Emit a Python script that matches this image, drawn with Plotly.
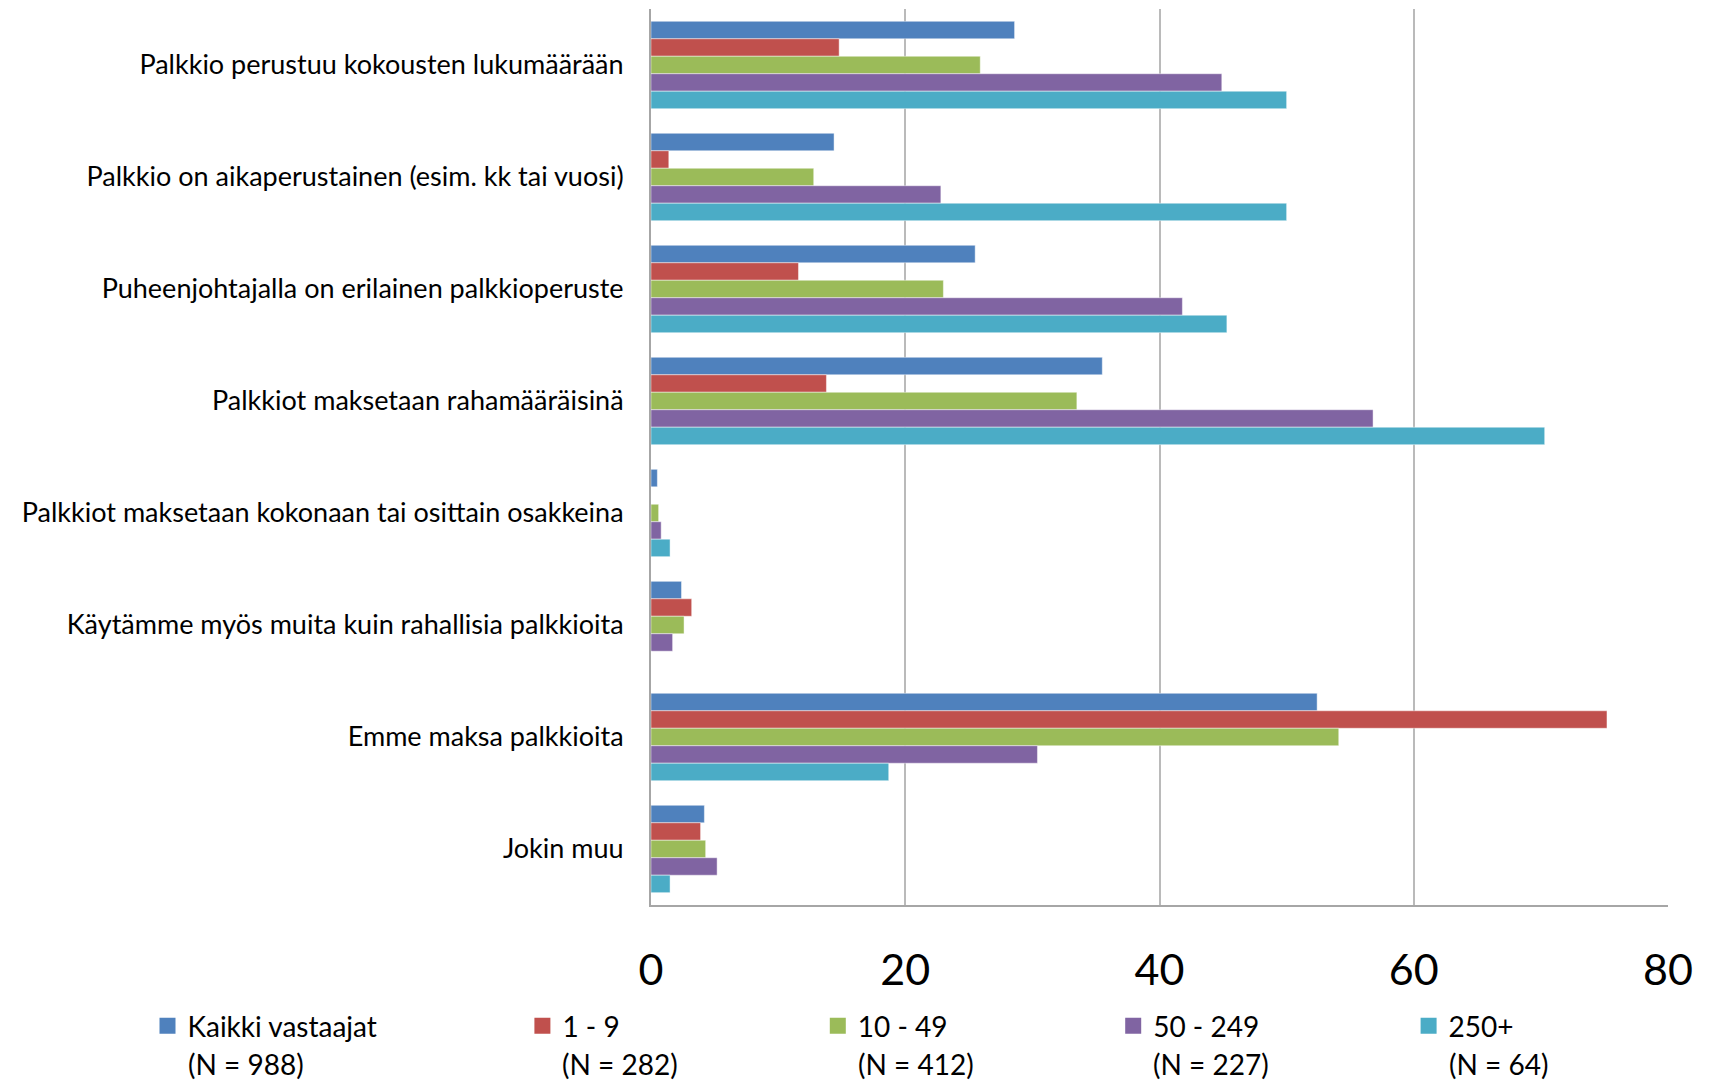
import plotly.graph_objects as go

categories = [
    "Palkkio perustuu kokousten lukumäärään",
    "Palkkio on aikaperustainen (esim. kk tai vuosi)",
    "Puheenjohtajalla on erilainen palkkioperuste",
    "Palkkiot maksetaan rahamääräisinä",
    "Palkkiot maksetaan kokonaan tai osittain osakkeina",
    "Käytämme myös muita kuin rahallisia palkkioita",
    "Emme maksa palkkioita",
    "Jokin muu",
]

series_names = ["Kaikki vastaajat", "1 - 9", "10 - 49", "50 - 249", "250+"]
series_n = ["(N = 988)", "(N = 282)", "(N = 412)", "(N = 227)", "(N = 64)"]

kaikki = [28.6, 14.4, 25.5, 35.5, 0.5, 2.4, 52.4, 4.2]
s_1_9 = [14.8, 1.4, 11.6, 13.8, 0.0, 3.2, 75.2, 3.9]
s_10_49 = [25.9, 12.8, 23.0, 33.5, 0.6, 2.6, 54.1, 4.3]
s_50_249 = [44.9, 22.8, 41.8, 56.8, 0.8, 1.7, 30.4, 5.2]
s_250 = [50.0, 50.0, 45.3, 70.3, 1.5, 0.0, 18.7, 1.5]

series_values = [kaikki, s_1_9, s_10_49, s_50_249, s_250]
colors = ["#4F81BD", "#C0504D", "#9BBB59", "#8064A2", "#4BACC6"]
x_ticks = [0, 20, 40, 60, 80]

# figure geometry (page has an 8px body margin)
W, H = 1701, 1074
ML, MR, MT, MB = 643, 41, 1, 177
PW, PH = W - ML - MR, H - MT - MB
legend_text_px = [179.5, 554.4, 849.8, 1145.2, 1440.6]
legend_py = 993
n_label_py = 1056

FONT = "Lato, sans-serif"

fig = go.Figure()
legend_ids = ["legend", "legend2", "legend3", "legend4", "legend5"]
for i, (name, vals, col) in enumerate(zip(series_names, series_values, colors)):
    fig.add_trace(go.Bar(
        y=categories, x=vals, orientation="h", name=name,
        marker=dict(color=col, line=dict(color="rgba(255,255,255,0.45)", width=1)),
        showlegend=False,
    ))
for i, (name, col) in enumerate(zip(series_names, colors)):
    fig.add_trace(go.Scatter(
        x=[None], y=[None], mode="markers", name=name,
        marker=dict(symbol="square", size=18, color=col),
        legend=legend_ids[i], showlegend=True, hoverinfo="skip",
    ))

layout_legends = {}
for i, lid in enumerate(legend_ids):
    layout_legends[lid] = dict(
        x=(legend_text_px[i] - 40) / W, y=1 - legend_py / H,
        xref="container", yref="container",
        xanchor="left", yanchor="top", orientation="h", valign="middle",
        font=dict(family=FONT, size=28, color="#000000"),
        bgcolor="rgba(0,0,0,0)", borderwidth=0, itemsizing="trace",
    )

annotations = []
for i, nlab in enumerate(series_n):
    annotations.append(dict(
        x=(legend_text_px[i] - 2 - ML) / PW, y=(H - MB - n_label_py) / PH,
        xref="paper", yref="paper", xanchor="left", yanchor="middle",
        text=nlab, showarrow=False,
        font=dict(family=FONT, size=28, color="#000000"),
    ))

fig.update_layout(
    width=W, height=H,
    paper_bgcolor="white", plot_bgcolor="white",
    margin=dict(l=ML, r=MR, t=MT, b=MB, autoexpand=False),
    barmode="group", bargap=0.22, bargroupgap=0,
    font=dict(family=FONT, color="#000000"),
    xaxis=dict(
        range=[0, 80], tickvals=x_ticks, ticktext=[str(v) for v in x_ticks],
        showgrid=True, gridcolor="#BABABA", gridwidth=1.5,
        showline=True, linecolor="#A6A6A6", linewidth=2,
        zeroline=False, ticks="", ticklabelstandoff=26,
        tickfont=dict(family=FONT, size=43, color="#000000"),
    ),
    yaxis=dict(
        categoryorder="array", categoryarray=categories, autorange="reversed",
        showline=True, linecolor="#A6A6A6", linewidth=2,
        showgrid=False, ticks="", ticklabelstandoff=20,
        tickfont=dict(family=FONT, size=27, color="#000000"),
    ),
    showlegend=True,
    annotations=annotations,
    **layout_legends,
)

fig.write_html("out.html")
